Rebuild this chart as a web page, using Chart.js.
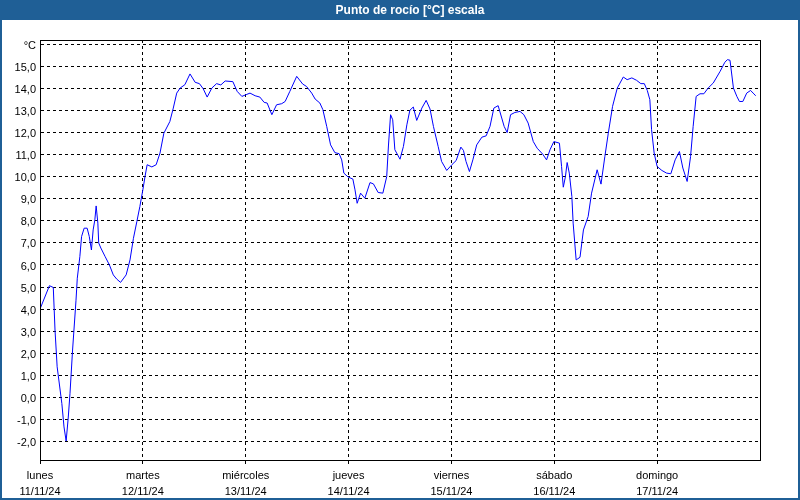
<!DOCTYPE html>
<html>
<head>
<meta charset="utf-8">
<script src="https://cdn.jsdelivr.net/npm/chart.js@4/dist/chart.umd.min.js"></script>
<style>
  html, body { margin: 0; padding: 0; background: #fff; }
  canvas { display: block; }
</style>
</head>
<body>
<canvas id="dewChart" width="800" height="500"></canvas>
<script>
// hours since lunes 11/11/24 00:00
const hours = [
  0, 2.2, 3.1, 3.5, 4.0, 5.1, 5.6, 6.1, 6.6, 7.0, 7.6, 8.4, 8.7, 9.3, 9.7,
  10.3, 11.0, 11.5, 12.0, 12.4, 12.8, 13.1, 13.5, 13.7, 14.2, 15.2, 16.2, 17.1, 17.9, 18.8,
  20.1, 21.0, 21.8, 22.6, 23.3, 24.0, 24.5, 25.0, 26.1, 27.1, 28.0, 28.9, 30.3, 31.1, 31.9,
  32.7, 33.8, 35.0, 36.2, 37.2, 38.1, 39.0, 40.1, 41.2, 42.2, 43.2, 45.0, 46.0, 47.1, 48.1,
  49.0, 50.2, 51.3, 52.3, 53.0, 54.1, 55.2, 56.4, 57.2, 58.3, 59.9, 61.3, 62.2, 63.4, 64.2,
  65.3, 66.0, 66.9, 67.8, 68.8, 69.8, 70.4, 70.9, 71.9, 73.0, 73.5, 74.0, 74.8, 75.8, 77.0,
  77.8, 78.9, 80.0, 80.9, 81.3, 81.8, 82.3, 82.8, 84.0, 84.8, 85.6, 86.3, 87.1, 87.9, 89.1,
  90.1, 91.0, 91.8, 92.9, 93.7, 94.9, 96.1, 97.1, 98.2, 98.8, 99.4, 100.2, 101.0, 101.9, 103.1,
  104.1, 105.0, 105.9, 106.9, 108.3, 109.0, 109.8, 110.8, 112.0, 112.9, 113.9, 115.1, 116.0, 117.3, 118.2,
  119.0, 119.9, 121.2, 121.7, 122.1, 122.6, 123.0, 123.5, 124.1, 124.4, 125.1, 126.0, 126.8, 127.9, 128.7,
  130.0, 130.9, 131.8, 132.6, 133.6, 134.7, 136.1, 137.0, 138.1, 139.2, 140.2, 141.0, 141.7, 142.3, 142.7,
  143.3, 144.0, 145.1, 146.2, 147.2, 148.2, 149.2, 150.0, 151.0, 151.8, 152.4, 153.1, 154.0, 154.9, 155.9,
  157.1, 158.7, 159.8, 160.4, 161.0, 161.8, 162.6, 163.2, 164.0, 164.9, 165.8, 166.4, 167.0
];
const dewPoint = [
  4.0, 5.06, 4.98, 3.05, 1.38, -0.29, -1.35, -1.99, -0.9, 0.18, 2.14, 4.4, 5.4, 6.38, 7.29,
  7.67, 7.67, 7.29, 6.68, 7.59, 8.05, 8.68, 7.9, 7.0, 6.77, 6.38, 6.0, 5.55, 5.36, 5.21,
  5.55, 6.23, 7.21, 7.97, 8.65, 9.41, 10.01, 10.55, 10.45, 10.55, 11.08, 11.98, 12.51, 13.12, 13.8,
  14.03, 14.18, 14.67, 14.29, 14.23, 13.99, 13.62, 14.03, 14.23, 14.17, 14.35, 14.32, 13.88, 13.65, 13.73,
  13.8, 13.68, 13.62, 13.38, 13.35, 12.82, 13.27, 13.32, 13.42, 13.88, 14.56, 14.21, 14.1, 13.8, 13.53,
  13.35, 13.05, 12.29, 11.45, 11.1, 11.05, 10.77, 10.17, 9.99, 9.9, 9.41, 8.8, 9.26, 9.03, 9.74,
  9.68, 9.29, 9.26, 10.01, 11.4, 12.82, 12.59, 11.23, 10.8, 11.38, 12.36, 13.02, 13.17, 12.56, 13.12,
  13.47, 13.08, 12.29, 11.38, 10.7, 10.29, 10.55, 10.74, 11.35, 11.2, 10.7, 10.24, 10.77, 11.45, 11.8,
  11.86, 12.29, 13.12, 13.23, 12.29, 12.01, 12.82, 12.92, 12.97, 12.82, 12.44, 11.6, 11.3, 11.03, 10.77,
  11.23, 11.6, 11.53, 10.47, 9.53, 10.01, 10.65, 10.17, 9.11, 7.9, 6.23, 6.35, 7.59, 8.2, 9.26,
  10.32, 9.67, 10.92, 11.98, 13.2, 14.03, 14.53, 14.41, 14.49, 14.38, 14.23, 14.23, 13.92, 13.5, 12.14,
  11.08, 10.47, 10.29, 10.17, 10.14, 10.77, 11.15, 10.4, 9.79, 10.92, 12.29, 13.65, 13.77, 13.77, 14.03,
  14.26, 14.79, 15.2, 15.32, 15.29, 14.03, 13.65, 13.42, 13.42, 13.8, 13.92, 13.8, 13.68
];

// x axis: one tick per day
const dayTicks = [0, 24, 48, 72, 96, 120, 144];
const dayNames = ['lunes', 'martes', 'miércoles', 'jueves', 'viernes', 'sábado', 'domingo'];
const dayDates = ['11/11/24', '12/11/24', '13/11/24', '14/11/24', '15/11/24', '16/11/24', '17/11/24'];

// y axis
const yTicks = [-2, -1, 0, 1, 2, 3, 4, 5, 6, 7, 8, 9, 10, 11, 12, 13, 14, 15, 16];

const chartTitle = 'Punto de rocío [°C] escala';

const FONT = 'Liberation Sans, Arial, sans-serif';
const BAR_BLUE = '#1F5F96';

// title bar, outer frame and the box round the plot
const framePlugin = {
    id: 'frame',
    beforeDraw(chart) {
        const ctx = chart.ctx;
        ctx.save();
        ctx.fillStyle = '#fff';
        ctx.fillRect(0, 0, chart.width, chart.height);
        ctx.fillStyle = BAR_BLUE;
        ctx.fillRect(0, 0, chart.width, 20);
        ctx.fillStyle = '#fff';
        ctx.font = 'bold 12px ' + FONT;
        ctx.textAlign = 'center';
        ctx.textBaseline = 'middle';
        ctx.fillText(chartTitle, 410, 10.5);
        ctx.restore();
    },
    afterDraw(chart) {
        const ctx = chart.ctx;
        const a = chart.chartArea;
        ctx.save();
        ctx.strokeStyle = '#000';
        ctx.lineWidth = 1;
        ctx.strokeRect(a.left + 0.5, a.top + 0.5, a.right - a.left, a.bottom - a.top);
        ctx.strokeStyle = BAR_BLUE;
        ctx.lineWidth = 2;
        ctx.strokeRect(1, 1, chart.width - 2, chart.height - 2);
        ctx.restore();
    }
};

const ctx = document.getElementById('dewChart').getContext('2d');
new Chart(ctx, {
    type: 'line',
    data: {
        datasets: [{
            label: 'Punto de rocío',
            data: hours.map((h, i) => ({ x: h, y: dewPoint[i] })),
            borderColor: '#0000FF',
            borderWidth: 1,
            pointRadius: 0,
            tension: 0,
            fill: false
        }]
    },
    options: {
        responsive: false,
        devicePixelRatio: 1,
        animation: false,
        layout: { padding: { left: 0, right: 40, top: 40, bottom: 0 } },
        plugins: {
            legend: { display: false },
            tooltip: { enabled: false },
            title: { display: false }
        },
        scales: {
            x: {
                type: 'linear',
                min: 0,
                max: 168,
                afterFit: function(scale) { scale.height = 40; },
                afterBuildTicks: function(scale) {
                    scale.ticks = dayTicks.map(v => ({ value: v }));
                },
                ticks: {
                    autoSkip: false,
                    maxRotation: 0,
                    padding: 4,
                    color: '#000',
                    font: { family: FONT, size: 11, lineHeight: 1.45 },
                    callback: function(value) {
                        const i = dayTicks.indexOf(value);
                        return i < 0 ? null : [dayNames[i], dayDates[i]];
                    }
                },
                grid: {
                    color: '#000',
                    lineWidth: 1,
                    drawTicks: true,
                    tickLength: 4,
                    tickColor: '#000',
                    tickBorderDash: []
                },
                border: { display: true, color: '#000', width: 1, dash: [3, 3] }
            },
            y: {
                type: 'linear',
                min: -2.85,
                max: 16.21,
                afterFit: function(scale) { scale.width = 40; },
                afterBuildTicks: function(scale) {
                    scale.ticks = yTicks.map(v => ({ value: v }));
                },
                ticks: {
                    padding: 4,
                    labelOffset: 1.5,
                    color: '#000',
                    font: { family: FONT, size: 11 },
                    callback: function(value) {
                        if (value === 16) return '°C';
                        return value.toFixed(1).replace('.', ',');
                    }
                },
                grid: {
                    color: '#000',
                    lineWidth: 1,
                    drawTicks: false
                },
                border: { display: true, color: '#000', width: 1, dash: [3, 3] }
            }
        }
    },
    plugins: [framePlugin]
});
</script>
</body>
</html>
